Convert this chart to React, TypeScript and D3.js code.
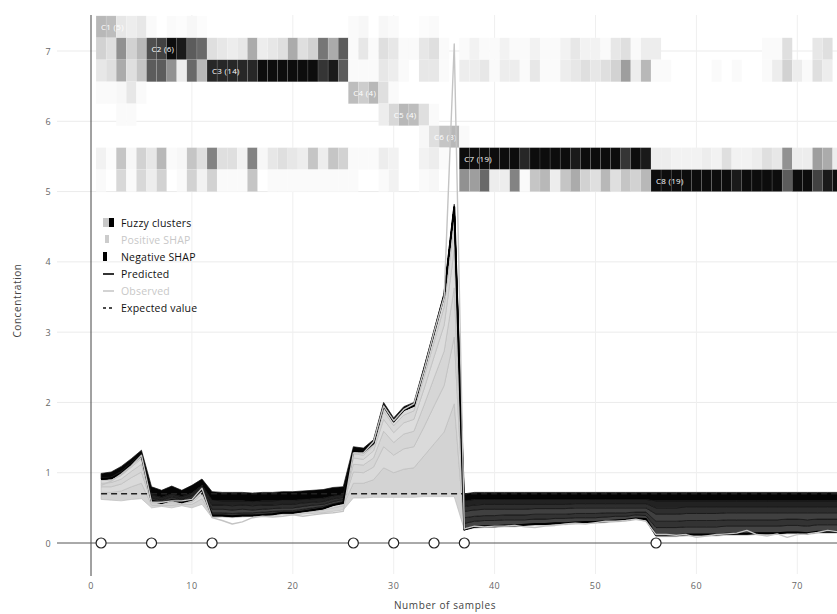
import React from "react";
import * as d3 from "d3";

// ---- data -------------------------------------------------------------
const EXPECTED_VALUE = 0.7;

const clusterNames = ["C1", "C2", "C3", "C4", "C5", "C6", "C7", "C8"];
const clusterStarts = [1, 6, 12, 26, 30, 34, 37, 56];
const clusterSizes = [5, 6, 14, 4, 4, 3, 19, 19];

const xTicks = [0, 10, 20, 30, 40, 50, 60, 70];
const yTicks = [0, 1, 2, 3, 4, 5, 6, 7];

// SHAP contributions of each input feature, per sample (1..74)
const shapA = [
  0.10, 0.11, 0.14, 0.18, 0.22,
  0.04, 0.02, 0.04, 0.02, 0.05, 0.08,
  0.02, 0.01, 0.01, 0.01, 0.01, 0.01, 0.01, 0.02, 0.02, 0.03, 0.03, 0.04, 0.05, 0.06,
  0.21, 0.21, 0.25, 0.42,
  0.35, 0.40, 0.42, 0.58,
  0.75, 0.92, 1.32,
  0.00, 0.02, 0.02, 0.02, 0.02, 0.02, 0.02, 0.02, 0.02, 0.02, 0.02, 0.02, 0.02, 0.02, 0.02, 0.02, 0.02, 0.02, 0.02,
  0.02, 0.02, 0.02, 0.02, 0.02, 0.02, 0.02, 0.02, 0.02, 0.02, 0.02, 0.02, 0.02, 0.02, 0.02, 0.02, 0.02, 0.02, 0.02,
];
const shapB = [
  0.08, 0.08, 0.10, 0.13, 0.16,
  0.03, 0.02, 0.03, 0.02, 0.03, 0.06,
  0.01, 0.01, 0.01, 0.01, 0.00, 0.01, 0.01, 0.01, 0.01, 0.01, 0.02, 0.02, 0.04, 0.04,
  0.16, 0.15, 0.18, 0.30,
  0.25, 0.29, 0.30, 0.41,
  0.54, 0.66, 0.95,
  -0.09, -0.08, -0.08, -0.08, -0.08, -0.08, -0.07, -0.07, -0.07, -0.07, -0.07, -0.07, -0.06, -0.06, -0.06, -0.06, -0.05, -0.05, -0.05,
  -0.11, -0.11, -0.11, -0.11, -0.11, -0.11, -0.11, -0.11, -0.11, -0.11, -0.10, -0.10, -0.10, -0.10, -0.10, -0.10, -0.10, -0.10, -0.10,
];
const shapC = [
  0.05, 0.06, 0.07, 0.09, 0.11,
  0.02, 0.01, 0.02, 0.01, 0.02, 0.04,
  -0.04, -0.04, -0.04, -0.04, -0.04, -0.04, -0.04, -0.03, -0.03, -0.03, -0.03, -0.03, -0.02, -0.02,
  0.11, 0.11, 0.13, 0.22,
  0.18, 0.21, 0.22, 0.31,
  0.40, 0.49, 0.70,
  -0.08, -0.07, -0.07, -0.07, -0.07, -0.07, -0.07, -0.07, -0.07, -0.06, -0.06, -0.06, -0.06, -0.06, -0.06, -0.05, -0.05, -0.04, -0.05,
  -0.09, -0.09, -0.09, -0.09, -0.09, -0.09, -0.09, -0.09, -0.09, -0.09, -0.09, -0.09, -0.09, -0.09, -0.09, -0.09, -0.08, -0.08, -0.08,
];
const shapD = [
  0.04, 0.04, 0.05, 0.06, 0.08,
  0.01, 0.00, 0.02, 0.00, 0.02, 0.03,
  -0.05, -0.05, -0.05, -0.05, -0.04, -0.04, -0.04, -0.04, -0.04, -0.04, -0.04, -0.03, -0.03, -0.03,
  0.09, 0.08, 0.10, 0.17,
  0.14, 0.16, 0.17, 0.23,
  0.30, 0.37, 0.54,
  -0.09, -0.09, -0.09, -0.09, -0.08, -0.08, -0.08, -0.08, -0.08, -0.08, -0.08, -0.08, -0.08, -0.08, -0.07, -0.07, -0.07, -0.06, -0.06,
  -0.10, -0.10, -0.10, -0.10, -0.10, -0.10, -0.10, -0.10, -0.10, -0.10, -0.10, -0.10, -0.10, -0.09, -0.09, -0.10, -0.09, -0.09, -0.09,
];
const shapE = [
  0.02, 0.02, 0.03, 0.04, 0.05,
  -0.04, -0.04, -0.05, -0.04, -0.05, -0.03,
  -0.06, -0.06, -0.06, -0.06, -0.06, -0.06, -0.05, -0.05, -0.05, -0.05, -0.04, -0.04, -0.04, -0.03,
  0.06, 0.06, 0.07, 0.12,
  0.10, 0.11, 0.12, 0.16,
  0.21, 0.26, 0.37,
  -0.07, -0.07, -0.07, -0.07, -0.07, -0.07, -0.07, -0.06, -0.06, -0.06, -0.06, -0.06, -0.06, -0.06, -0.06, -0.06, -0.06, -0.06, -0.06,
  -0.09, -0.09, -0.09, -0.09, -0.09, -0.09, -0.09, -0.08, -0.08, -0.08, -0.08, -0.08, -0.08, -0.08, -0.08, -0.08, -0.08, -0.08, -0.08,
];
const shapF = [
  -0.02, -0.02, -0.03, -0.02, -0.02,
  -0.05, -0.04, -0.04, -0.04, -0.04, -0.03,
  -0.07, -0.06, -0.07, -0.06, -0.06, -0.06, -0.06, -0.06, -0.06, -0.05, -0.05, -0.05, -0.04, -0.04,
  0.04, 0.04, 0.04, 0.07,
  0.06, 0.07, 0.07, 0.11,
  0.13, 0.16, 0.24,
  -0.08, -0.08, -0.07, -0.07, -0.07, -0.07, -0.07, -0.07, -0.07, -0.07, -0.07, -0.06, -0.06, -0.06, -0.06, -0.06, -0.06, -0.06, -0.06,
  -0.10, -0.10, -0.10, -0.09, -0.09, -0.09, -0.09, -0.09, -0.09, -0.09, -0.09, -0.09, -0.09, -0.09, -0.09, -0.09, -0.09, -0.09, -0.09,
];
const shapG = [
  -0.06, -0.07, -0.07, -0.06, -0.05,
  -0.11, -0.10, -0.11, -0.09, -0.11, -0.09,
  -0.12, -0.12, -0.12, -0.12, -0.12, -0.12, -0.12, -0.12, -0.12, -0.12, -0.12, -0.12, -0.12, -0.11,
  -0.06, -0.06, -0.05, -0.05,
  -0.05, -0.05, -0.05, -0.04,
  -0.04, -0.04, -0.04,
  -0.10, -0.10, -0.10, -0.10, -0.10, -0.10, -0.10, -0.10, -0.10, -0.10, -0.10, -0.10, -0.10, -0.10, -0.10, -0.10, -0.10, -0.10, -0.10,
  -0.12, -0.12, -0.12, -0.12, -0.12, -0.12, -0.12, -0.12, -0.12, -0.12, -0.12, -0.12, -0.12, -0.12, -0.12, -0.12, -0.12, -0.12, -0.12,
];

const observed = [
  0.82, 0.88, 0.98, 1.10, 1.25,
  0.58, 0.58, 0.60, 0.60, 0.62, 0.78,
  0.36, 0.32, 0.27, 0.30, 0.36, 0.38, 0.37, 0.38, 0.40, 0.38, 0.40, 0.42, 0.43, 0.45,
  1.28, 1.28, 1.44, 1.95,
  1.74, 1.90, 1.98, 2.45,
  3.00, 3.50, 7.10,
  0.20, 0.24, 0.23, 0.24, 0.24, 0.25, 0.23, 0.22, 0.24, 0.25, 0.27, 0.28, 0.27, 0.29, 0.31, 0.31, 0.32, 0.34, 0.31,
  0.12, 0.12, 0.11, 0.12, 0.08, 0.10, 0.12, 0.13, 0.14, 0.18, 0.12, 0.10, 0.13, 0.08, 0.12, 0.13, 0.15, 0.18, 0.16,
];

// fuzzy cluster memberships per sample (darker = stronger membership)
const memberC1 = [
  0.30, 0.28, 0.12, 0.10, 0.12,
  0.05, 0.03, 0.05, 0.04, 0.06, 0.04,
  0.03, 0.02, 0.02, 0.03, 0.02, 0.02, 0.02, 0.02, 0.02, 0.03, 0.02, 0.02, 0.03, 0.02,
  0.05, 0.06, 0.03, 0.06,
  0.05, 0.03, 0.03, 0.04,
  0.05, 0.03, 0.02,
  0.03, 0.02, 0.02, 0.02, 0.02, 0.02, 0.02, 0.02, 0.02, 0.02, 0.02, 0.02, 0.02, 0.02, 0.02, 0.02, 0.02, 0.02, 0.02,
  0.02, 0.02, 0.02, 0.02, 0.02, 0.02, 0.02, 0.02, 0.02, 0.02, 0.02, 0.02, 0.02, 0.02, 0.02, 0.02, 0.02, 0.02, 0.02,
];
const memberC2 = [
  0.20, 0.15, 0.45, 0.20, 0.30,
  0.70, 0.75, 0.95, 0.90, 0.65, 0.60,
  0.15, 0.12, 0.10, 0.12, 0.35, 0.10, 0.12, 0.15, 0.35, 0.15, 0.20, 0.55, 0.35, 0.65,
  0.05, 0.12, 0.05, 0.15,
  0.12, 0.05, 0.05, 0.12,
  0.15, 0.05, 0.03,
  0.05, 0.08, 0.05, 0.05, 0.08, 0.05, 0.05, 0.08, 0.05, 0.05, 0.08, 0.12, 0.08, 0.08, 0.05, 0.12, 0.15, 0.05, 0.10,
  0.10, 0.03, 0.03, 0.03, 0.03, 0.03, 0.03, 0.03, 0.03, 0.03, 0.03, 0.05, 0.05, 0.15, 0.03, 0.03, 0.12, 0.15, 0.03,
];
const memberC3 = [
  0.12, 0.15, 0.35, 0.15, 0.25,
  0.65, 0.65, 0.45, 0.10, 0.60, 0.30,
  0.85, 0.85, 0.85, 0.85, 0.85, 0.95, 0.95, 0.95, 0.95, 0.95, 0.95, 0.80, 0.90, 0.65,
  0.05, 0.05, 0.05, 0.12,
  0.10, 0.05, 0.03, 0.12,
  0.12, 0.05, 0.03,
  0.10, 0.10, 0.12, 0.05, 0.10, 0.10, 0.05, 0.12, 0.05, 0.05, 0.10, 0.12, 0.15, 0.12, 0.15, 0.20, 0.40, 0.10, 0.30,
  0.05, 0.05, 0.03, 0.03, 0.03, 0.03, 0.05, 0.03, 0.05, 0.03, 0.03, 0.05, 0.10, 0.20, 0.10, 0.05, 0.15, 0.10, 0.03,
];
const memberC4 = [
  0.05, 0.05, 0.06, 0.12, 0.05,
  0.02, 0.02, 0.02, 0.02, 0.02, 0.02,
  0.01, 0.01, 0.01, 0.01, 0.01, 0.01, 0.01, 0.01, 0.01, 0.01, 0.01, 0.01, 0.01, 0.01,
  0.28, 0.22, 0.30, 0.15,
  0.05, 0.02, 0.01, 0.01,
  0.01, 0.01, 0.01,
  0.01, 0.01, 0.01, 0.01, 0.01, 0.01, 0.01, 0.01, 0.01, 0.01, 0.01, 0.01, 0.01, 0.01, 0.01, 0.01, 0.01, 0.01, 0.01,
  0.01, 0.01, 0.01, 0.01, 0.01, 0.01, 0.01, 0.01, 0.01, 0.01, 0.01, 0.01, 0.01, 0.01, 0.01, 0.01, 0.01, 0.01, 0.01,
];
const memberC5 = [
  0.02, 0.02, 0.05, 0.05, 0.02,
  0.01, 0.01, 0.01, 0.01, 0.01, 0.01,
  0.01, 0.01, 0.01, 0.01, 0.01, 0.01, 0.01, 0.01, 0.01, 0.01, 0.01, 0.01, 0.01, 0.01,
  0.01, 0.01, 0.02, 0.10,
  0.18, 0.30, 0.28, 0.15,
  0.05, 0.02, 0.01,
  0.01, 0.01, 0.01, 0.01, 0.01, 0.01, 0.01, 0.01, 0.01, 0.01, 0.01, 0.01, 0.01, 0.01, 0.01, 0.01, 0.01, 0.01, 0.01,
  0.01, 0.01, 0.01, 0.01, 0.01, 0.01, 0.01, 0.01, 0.01, 0.01, 0.01, 0.01, 0.01, 0.01, 0.01, 0.01, 0.01, 0.01, 0.01,
];
const memberC6 = [
  0.01, 0.01, 0.01, 0.01, 0.01,
  0.01, 0.01, 0.01, 0.01, 0.01, 0.01,
  0.01, 0.01, 0.01, 0.01, 0.01, 0.01, 0.01, 0.01, 0.01, 0.01, 0.01, 0.01, 0.01, 0.01,
  0.01, 0.01, 0.01, 0.02,
  0.02, 0.02, 0.03, 0.06,
  0.15, 0.25, 0.30,
  0.05, 0.01, 0.01, 0.01, 0.01, 0.01, 0.01, 0.01, 0.01, 0.01, 0.01, 0.01, 0.01, 0.01, 0.01, 0.01, 0.01, 0.01, 0.01,
  0.01, 0.01, 0.01, 0.01, 0.01, 0.01, 0.01, 0.01, 0.01, 0.01, 0.01, 0.01, 0.01, 0.01, 0.01, 0.01, 0.01, 0.01, 0.01,
];
const memberC7 = [
  0.08, 0.04, 0.25, 0.06, 0.20,
  0.12, 0.30, 0.05, 0.06, 0.25, 0.15,
  0.50, 0.15, 0.15, 0.08, 0.50, 0.06, 0.12, 0.15, 0.12, 0.10, 0.25, 0.10, 0.25, 0.20,
  0.05, 0.05, 0.05, 0.10,
  0.08, 0.03, 0.03, 0.08,
  0.10, 0.05, 0.03,
  0.95, 0.95, 0.95, 0.95, 0.95, 0.95, 0.85, 0.95, 0.95, 0.95, 0.95, 0.90, 0.95, 0.95, 0.95, 0.95, 0.80, 0.95, 0.90,
  0.10, 0.10, 0.08, 0.08, 0.08, 0.10, 0.08, 0.15, 0.08, 0.08, 0.10, 0.15, 0.12, 0.45, 0.10, 0.10, 0.40, 0.35, 0.10,
];
const memberC8 = [
  0.05, 0.03, 0.18, 0.05, 0.18,
  0.10, 0.20, 0.03, 0.05, 0.20, 0.08,
  0.20, 0.05, 0.05, 0.05, 0.25, 0.03, 0.05, 0.05, 0.05, 0.05, 0.05, 0.05, 0.05, 0.05,
  0.05, 0.03, 0.03, 0.05,
  0.08, 0.03, 0.03, 0.05,
  0.06, 0.03, 0.02,
  0.45, 0.40, 0.60, 0.10, 0.10, 0.50, 0.05, 0.25, 0.30, 0.10, 0.25, 0.35, 0.20, 0.15, 0.30, 0.15, 0.25, 0.20, 0.30,
  0.95, 0.95, 0.95, 0.95, 0.95, 0.95, 0.95, 0.95, 0.90, 0.95, 0.95, 0.95, 0.95, 0.65, 0.95, 0.95, 0.75, 0.90, 0.95,
];

// ---- styling ----------------------------------------------------------
const FONT = "'Open Sans', 'DejaVu Sans', sans-serif";
const POS_FILLS = ["#d3d3d3", "#dadada", "#d6d6d6", "#dddddd", "#d8d8d8", "#dcdcdc", "#d9d9d9"];
const NEG_FILLS = ["#3c3c3c", "#444444", "#333333", "#404040", "#2e2e2e", "#222222", "#050505"];

export default function App() {
  const features = [shapA, shapB, shapC, shapD, shapE, shapF, shapG];
  const memberships = [memberC1, memberC2, memberC3, memberC4, memberC5, memberC6, memberC7, memberC8];
  const n = observed.length;
  const samples = d3.range(1, n + 1);
  const idx = d3.range(n);

  const x = d3.scaleLinear().domain([0, 70]).range([91, 797.3]);
  const y = d3.scaleLinear().domain([0, 7]).range([543, 51]);
  // very weak memberships fade to white
  const shade = d3
    .scaleLinear<string>()
    .domain([0.03, 1])
    .range(["#ffffff", "#000000"])
    .interpolate(d3.interpolateRgb)
    .clamp(true);

  // force-plot stacking: positive effects sit below the prediction, negative ones above it
  const predicted: number[] = [];
  const posLo = features.map(() => new Array(n).fill(0));
  const posHi = features.map(() => new Array(n).fill(0));
  const negLo = features.map(() => new Array(n).fill(0));
  const negHi = features.map(() => new Array(n).fill(0));
  idx.forEach((i) => {
    const vals = features.map((f) => f[i]);
    const negSum = d3.sum(vals.filter((v) => v < 0));
    const pred = EXPECTED_VALUE + d3.sum(vals);
    predicted[i] = pred;
    let cp = EXPECTED_VALUE + negSum;
    let cn = pred;
    vals.forEach((v, k) => {
      const p = Math.max(v, 0);
      const q = Math.max(-v, 0);
      posLo[k][i] = cp;
      posHi[k][i] = cp + p;
      cp += p;
      negLo[k][i] = cn;
      negHi[k][i] = cn + q;
      cn += q;
    });
  });

  const band = (lo: number[], hi: number[]) =>
    d3
      .area<number>()
      .x((i) => x(samples[i]))
      .y0((i) => y(lo[i]))
      .y1((i) => y(hi[i]))(idx) as string;

  const line = (vals: number[]) =>
    d3
      .line<number>()
      .x((i) => x(samples[i]))
      .y((i) => y(vals[i]))(idx) as string;

  const rowH = 2.5 / clusterNames.length;
  const rowTop = (r: number) => y(7.5 - r * rowH);
  const rowBottom = (r: number) => y(7.5 - (r + 1) * rowH);

  const leftEdge = 57;
  const rightEdge = 837;
  const topEdge = 15;

  const legendX = 103;
  const legendTextX = 121;
  const legendY0 = 227;
  const legendStep = 17;

  return (
    <div style={{ position: "absolute", left: 0, top: 0 }}>
      <svg width={837} height={614} style={{ display: "block", background: "#fff" }} fontFamily={FONT}>
        {/* grid */}
        {yTicks.filter((t) => t > 0).map((t) => (
          <line key={"gy" + t} x1={leftEdge} x2={rightEdge} y1={y(t)} y2={y(t)} stroke="#ebebeb" strokeWidth={1} />
        ))}
        {xTicks.filter((t) => t > 0).map((t) => (
          <line key={"gx" + t} x1={x(t)} x2={x(t)} y1={topEdge} y2={574} stroke="#efefef" strokeWidth={1} />
        ))}

        {/* fuzzy cluster membership heatmap */}
        {memberships.map((row, r) =>
          row.map((v, i) =>
            v <= 0.03 ? null : (
              <rect
                key={`h${r}-${i}`}
                x={x(samples[i] - 0.5)}
                y={rowTop(r)}
                width={x(samples[i] + 0.5) - x(samples[i] - 0.5)}
                height={rowBottom(r) - rowTop(r)}
                fill={shade(v)}
                stroke="#ffffff"
                strokeOpacity={0.2}
                strokeWidth={0.5}
              />
            )
          )
        )}
        {clusterNames.map((c, r) => (
          <text
            key={"cl" + c}
            x={x(clusterStarts[r] - 0.5) + 5}
            y={(rowTop(r) + rowBottom(r)) / 2 + 3}
            fontSize={8}
            fill="#ffffff"
            letterSpacing={0.3}
          >
            {`${c} (${clusterSizes[r]})`}
          </text>
        ))}

        {/* SHAP bands */}
        {features.map((_, k) => (
          <path key={"p" + k} d={band(posLo[k], posHi[k])} fill={POS_FILLS[k]} stroke="#bdbdbd" strokeWidth={0.7} />
        ))}
        {features.map((_, k) => (
          <path key={"n" + k} d={band(negLo[k], negHi[k])} fill={NEG_FILLS[k]} stroke="#111" strokeWidth={0.7} />
        ))}

        {/* expected value */}
        <line
          x1={x(samples[0])}
          x2={x(samples[n - 1])}
          y1={y(EXPECTED_VALUE)}
          y2={y(EXPECTED_VALUE)}
          stroke="#222"
          strokeWidth={1.5}
          strokeDasharray="6,4"
        />

        {/* predicted and observed */}
        <path d={line(predicted)} fill="none" stroke="#000" strokeWidth={2} strokeLinejoin="round" />
        <path d={line(observed)} fill="none" stroke="#c4c4c4" strokeWidth={1.4} strokeLinejoin="round" />

        {/* axes */}
        <line x1={x(0)} x2={x(0)} y1={topEdge} y2={576} stroke="#444" strokeWidth={1} />
        <line x1={leftEdge} x2={rightEdge} y1={y(0)} y2={y(0)} stroke="#555" strokeWidth={1} />
        {clusterStarts.map((s) => (
          <circle key={"c" + s} cx={x(s)} cy={y(0)} r={5} fill="#fff" stroke="#222" strokeWidth={1.2} />
        ))}

        {yTicks.map((t) => (
          <text key={"yl" + t} x={48} y={y(t) + 3.5} fontSize={9} fill="#666" textAnchor="middle">
            {t}
          </text>
        ))}
        {xTicks.map((t) => (
          <text key={"xl" + t} x={x(t)} y={589} fontSize={9} fill="#666" textAnchor="middle" letterSpacing={0.5}>
            {t}
          </text>
        ))}
        <text x={445} y={609} fontSize={10} fill="#444" textAnchor="middle" letterSpacing={0.6}>
          Number of samples
        </text>
        <text
          transform={`translate(21, ${y(3.45)}) rotate(-90)`}
          fontSize={10}
          fill="#444"
          textAnchor="middle"
          letterSpacing={0.6}
        >
          Concentration
        </text>

        {/* legend */}
        <g fontSize={10.5} fontWeight={500} letterSpacing={0.2}>
          <rect x={legendX} y={legendY0 - 9} width={6} height={9} fill="#c8c8c8" />
          <rect x={legendX + 6} y={legendY0 - 9} width={5} height={9} fill="#000" />
          <text x={legendTextX} y={legendY0} fill="#111">Fuzzy clusters</text>

          <rect x={legendX + 2} y={legendY0 + legendStep - 9} width={4} height={8} fill="#cccccc" />
          <text x={legendTextX} y={legendY0 + legendStep} fill="#c8c8c8">Positive SHAP</text>

          <rect x={legendX} y={legendY0 + 2 * legendStep - 9} width={4} height={9} fill="#000" />
          <text x={legendTextX} y={legendY0 + 2 * legendStep} fill="#111">Negative SHAP</text>

          <line x1={legendX} x2={legendX + 11} y1={legendY0 + 3 * legendStep - 4} y2={legendY0 + 3 * legendStep - 4} stroke="#000" strokeWidth={1.6} />
          <text x={legendTextX} y={legendY0 + 3 * legendStep} fill="#111">Predicted</text>

          <line x1={legendX} x2={legendX + 11} y1={legendY0 + 4 * legendStep - 4} y2={legendY0 + 4 * legendStep - 4} stroke="#c8c8c8" strokeWidth={1.6} />
          <text x={legendTextX} y={legendY0 + 4 * legendStep} fill="#c8c8c8">Observed</text>

          <line x1={legendX} x2={legendX + 11} y1={legendY0 + 5 * legendStep - 4} y2={legendY0 + 5 * legendStep - 4} stroke="#111" strokeWidth={1.4} strokeDasharray="3,3" />
          <text x={legendTextX} y={legendY0 + 5 * legendStep} fill="#111">Expected value</text>
        </g>
      </svg>
    </div>
  );
}
